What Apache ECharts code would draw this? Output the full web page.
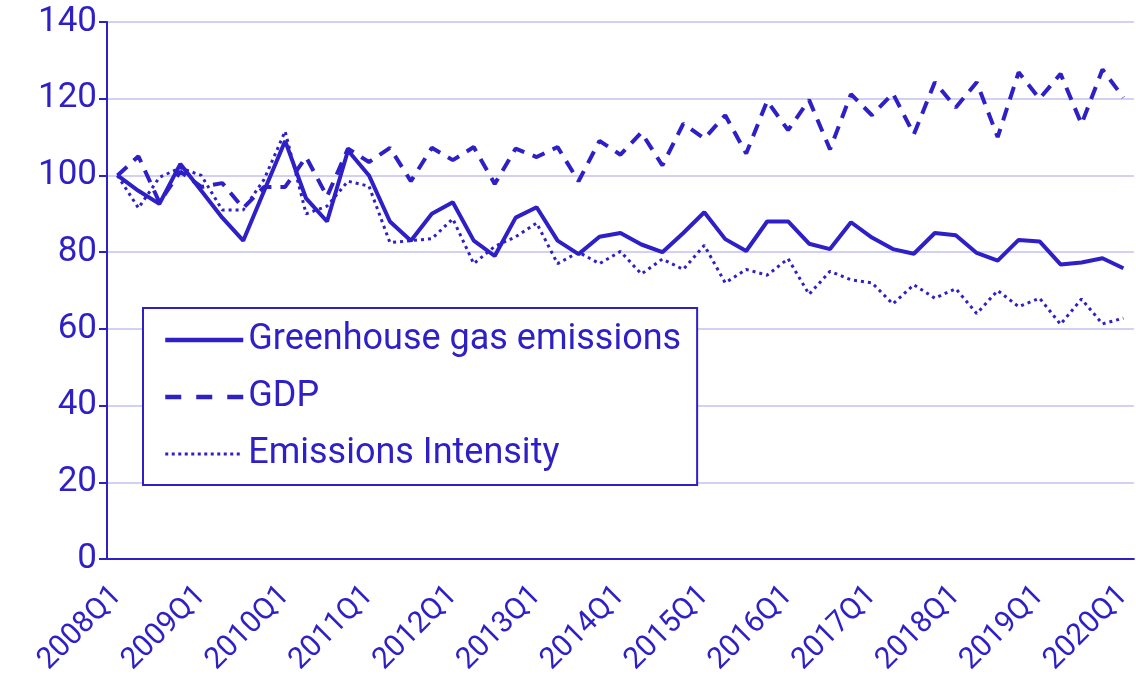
<!DOCTYPE html>
<html lang="en">
<head>
<meta charset="utf-8">
<title>Greenhouse gas emissions, GDP and emissions intensity</title>
<style>
    body { margin: 0; background: #fff; }
    #main { width: 1136px; height: 678px; }
</style>
</head>
<body>
<div id="main"></div>
<script src="https://cdn.jsdelivr.net/npm/echarts/dist/echarts.min.js"></script>
<script type="text/javascript">
    // quarters 2008Q1 .. 2020Q1
    var quarters = [
        '2008Q1','2008Q2','2008Q3','2008Q4','2009Q1','2009Q2','2009Q3','2009Q4',
        '2010Q1','2010Q2','2010Q3','2010Q4','2011Q1','2011Q2','2011Q3','2011Q4',
        '2012Q1','2012Q2','2012Q3','2012Q4','2013Q1','2013Q2','2013Q3','2013Q4',
        '2014Q1','2014Q2','2014Q3','2014Q4','2015Q1','2015Q2','2015Q3','2015Q4',
        '2016Q1','2016Q2','2016Q3','2016Q4','2017Q1','2017Q2','2017Q3','2017Q4',
        '2018Q1','2018Q2','2018Q3','2018Q4','2019Q1','2019Q2','2019Q3','2019Q4',
        '2020Q1'
    ];

    var ghg = [100, 96, 92.6, 103, 96, 89, 83, 96, 109, 94,
        88, 106.5, 100, 88, 83, 90, 93, 83, 79, 89,
        91.7, 83, 79.5, 84, 85, 82, 80, 85, 90.4, 83.4,
        80.3, 88, 88, 82.2, 80.8, 87.8, 83.8, 80.8, 79.6, 85,
        84.4, 79.8, 77.8, 83.2, 82.8, 76.8, 77.3, 78.4, 75.8];

    var gdp = [100, 105, 93, 101, 97, 98, 91.5, 97, 97, 104.8,
        94.5, 107, 103.5, 107.2, 98.5, 107.2, 104, 107.4, 97.8, 107,
        104.8, 107.4, 98.5, 109, 105.4, 111.2, 102.6, 113.5, 109.6, 115.7,
        105.7, 119.4, 111.8, 119.7, 106.8, 121.2, 115.7, 121.4, 110.7, 124.3,
        117.7, 124.3, 110, 126.9, 120, 126.5, 113.4, 127.6, 120.3];

    var intensity = [100, 91.5, 99.5, 102, 100, 91, 91, 99, 111.5, 90,
        92, 98.5, 97.2, 82.5, 83, 83.5, 88.7, 77, 81.5, 84,
        87.6, 77, 80, 77, 80.2, 74.3, 78.2, 75.5, 81.8, 72,
        75.5, 74, 78.3, 69, 75, 72.8, 72, 66.5, 71.5, 68,
        70.5, 64, 70, 65.8, 68, 61.2, 67.8, 61.3, 62.8];

    var blue = '#2e1fc6';
    var gridBlue = '#d3d1f3';
    var font = 'Roboto, "Liberation Sans", sans-serif';

    var myChart = echarts.init(document.getElementById('main'));

    var option = {
        animation: false,
        textStyle: { fontFamily: font },
        grid: {
            left: 107,
            right: -12,
            top: 22,
            bottom: 117
        },
        legend: {
            orient: 'vertical',
            left: 143,
            top: 308,
            padding: [12, 16, 11, 20],
            itemWidth: 78,
            itemHeight: 20,
            itemGap: 17,
            borderColor: blue,
            borderWidth: 2,
            backgroundColor: '#fff',
            // hide the symbol dot, keep only the line sample
            itemStyle: { opacity: 0 },
            textStyle: { color: blue, fontSize: 36, lineHeight: 40, fontFamily: font },
            data: [
                { name: 'Greenhouse gas emissions', lineStyle: { width: 4.5 } },
                { name: 'GDP', lineStyle: { width: 4.5, type: [16, 15] } },
                { name: 'Emissions Intensity', lineStyle: { width: 3, type: [3, 3.5] } }
            ]
        },
        xAxis: {
            type: 'category',
            boundaryGap: true,
            data: quarters,
            axisLine: { lineStyle: { color: blue, width: 2 } },
            axisTick: { interval: 0, length: 8, lineStyle: { color: blue, width: 2 } },
            axisLabel: {
                interval: 3,
                rotate: 45,
                margin: 32,
                color: blue,
                fontSize: 30,
                fontFamily: font
            },
            splitLine: { show: false }
        },
        yAxis: {
            type: 'value',
            min: 0,
            max: 140,
            interval: 20,
            axisLine: { show: true, lineStyle: { color: blue, width: 2 } },
            axisTick: { show: true, length: 8, lineStyle: { color: blue, width: 2 } },
            axisLabel: { color: blue, fontSize: 35, margin: 10, fontFamily: font },
            splitLine: { lineStyle: { color: gridBlue, width: 2 } }
        },
        series: [
            {
                name: 'Greenhouse gas emissions',
                type: 'line',
                data: ghg,
                symbol: 'none',
                z: 3,
                lineStyle: { color: blue, width: 4 },
                itemStyle: { color: blue }
            },
            {
                name: 'GDP',
                type: 'line',
                data: gdp,
                symbol: 'none',
                lineStyle: { color: blue, width: 4, type: [13, 9] },
                itemStyle: { color: blue }
            },
            {
                name: 'Emissions Intensity',
                type: 'line',
                data: intensity,
                symbol: 'none',
                lineStyle: { color: blue, width: 3, type: [3, 4] },
                itemStyle: { color: blue }
            }
        ]
    };

    myChart.setOption(option);
</script>
</body>
</html>
